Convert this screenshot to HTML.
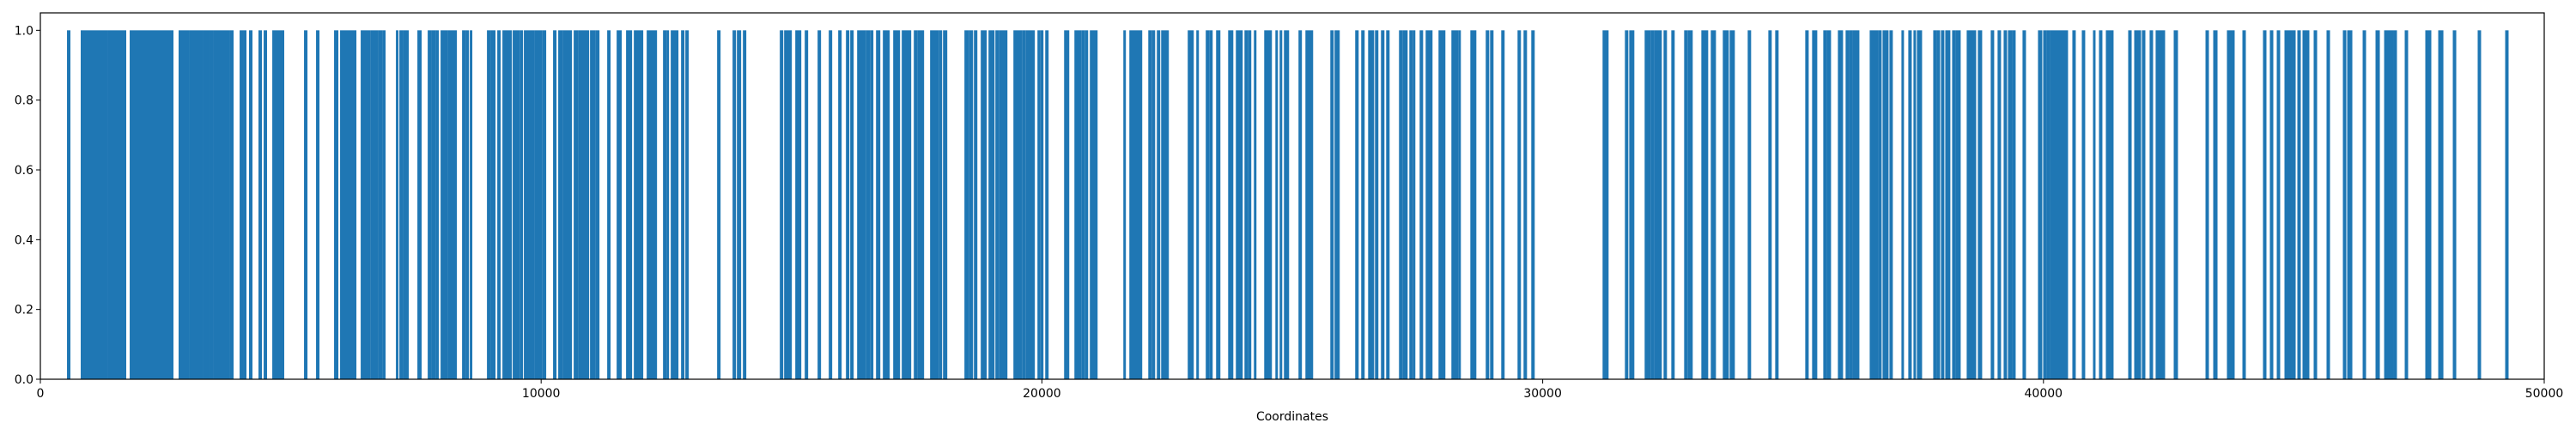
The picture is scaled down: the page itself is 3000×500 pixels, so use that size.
<!DOCTYPE html>
<html><head><meta charset="utf-8"><style>
html,body{margin:0;padding:0;background:#fff;}
svg{display:block;font-family:"DejaVu Sans","Liberation Sans",sans-serif;}
</style></head><body>
<svg id="chart" width="3000" height="500" viewBox="0 0 3000 500" xmlns="http://www.w3.org/2000/svg">
<rect width="3000" height="500" fill="#fff"/>
<g id="bars"></g>
<g id="axes"></g>
<text x="1505" y="490" font-size="14" text-anchor="middle" fill="#000">Coordinates</text>
</svg>
<script>
// intervals [start, end] of coordinates covered by bars (height 1)
const barStarts = [532,806,1338,1509,1784,2212,2761,2967,3241,3361,3447,3773,3979,4047,4167,4356,4459,4631,5265,5505,5865,5985,6397,6586,6740,6826,7100,7169,7237,7529,7735,7803,7889,7992,8129,8421,8489,8575,8918,8986,9124,9227,9432,9570,9655,9861,10016,10238,10341,10427,10650,10736,10976,11079,11319,11508,11696,11851,12108,12434,12502,12588,12794,12880,13514,13823,13909,14029,14766,14852,15075,15264,15521,15744,15932,16087,16172,16310,16481,16567,16687,16824,17030,17201,17442,17510,17767,17939,18025,18453,18539,18642,18779,18934,19071,19139,19431,19602,19671,19911,19962,20066,20443,20649,20786,20854,20957,21626,21746,22124,22192,22295,22381,22912,23083,23272,23341,23478,23719,23873,24045,24113,24233,24439,24662,24747,24833,25124,25262,25759,25844,26256,26376,26514,26651,26771,26874,27131,27200,27337,27406,27543,27663,27920,28177,28315,28555,28863,28949,29172,29498,29618,29772,31196,31642,31728,32036,32156,32225,32414,32568,32825,32894,33168,33357,33597,33734,34094,34506,34643,35243,35380,35603,35672,35895,36049,36118,36187,36530,36701,36787,36924,37164,37301,37404,37473,37799,37867,37953,38039,38176,38244,38467,38690,38947,39084,39205,39291,39376,39582,39891,39994,40063,40131,40577,40766,40989,41109,41246,41332,41692,41812,41881,41966,42120,42240,42601,43236,43390,43664,43973,44384,44521,44659,44813,44933,45070,45173,45259,45396,45653,45979,46065,46374,46631,46803,46905,46991,47214,47625,47883,48174,48671,49220];
const barEnds = [583,1321,1492,1698,2195,2641,2950,3224,3344,3430,3756,3842,4030,4099,4219,4408,4510,4853,5317,5557,5934,6294,6568,6723,6808,6877,7134,7220,7340,7597,7786,7872,7940,8112,8301,8472,8541,8609,8969,9072,9175,9398,9552,9621,9844,9998,10084,10290,10410,10599,10719,10942,11062,11148,11370,11593,11799,12022,12297,12485,12537,12725,12845,12931,13566,13874,13977,14080,14818,14989,15178,15315,15572,15795,15984,16138,16224,16464,16550,16618,16756,16944,17150,17373,17493,17630,17922,17990,18093,18522,18608,18694,18882,19037,19122,19294,19585,19654,19842,19945,20014,20117,20529,20769,20837,20906,21095,21660,21986,22175,22244,22346,22518,23015,23118,23324,23393,23547,23805,23993,24096,24164,24267,24576,24696,24782,24919,25175,25399,25810,25930,26308,26428,26617,26702,26823,26926,27183,27286,27389,27440,27595,27783,28040,28298,28349,28658,28915,29001,29223,29549,29670,29824,31299,31693,31813,32139,32208,32362,32465,32619,32876,32979,33288,33443,33700,33820,34145,34557,34694,35295,35466,35655,35741,35981,36101,36170,36307,36684,36752,36890,36975,37198,37353,37438,37559,37850,37919,38004,38124,38227,38330,38639,38759,38999,39136,39256,39359,39428,39634,39960,40045,40114,40474,40628,40817,41023,41160,41315,41383,41744,41864,41932,42018,42172,42412,42669,43287,43459,43801,44024,44436,44573,44710,44916,45019,45122,45242,45293,45448,45705,46031,46151,46425,46700,46888,46974,47042,47265,47728,47969,48226,48722,49271];
const barValue = 1;
const xTicks = [0,10000,20000,30000,40000,50000];
const xTickLabels = ["0","10000","20000","30000","40000","50000"];
const yTicks = [0,0.2,0.4,0.6,0.8,1.0];
const yTickLabels = ["0.0","0.2","0.4","0.6","0.8","1.0"];

const L=47,R=2963,T=15,B=442,XMAX=50000,YMAX=1.05;
function xs(v){return L+(v/XMAX)*(R-L);}
function ys(v){return B-(v/YMAX)*(B-T);}
const NS="http://www.w3.org/2000/svg";
const gb=document.getElementById('bars');
for(let i=0;i<barStarts.length;i++){
  const r=document.createElementNS(NS,'rect');
  const x0=xs(barStarts[i]), x1=xs(barEnds[i]);
  r.setAttribute('x',x0.toFixed(2));
  r.setAttribute('width',Math.max(2.6,x1-x0+1).toFixed(2));
  r.setAttribute('y',ys(barValue));
  r.setAttribute('height',ys(0)-ys(barValue));
  r.setAttribute('fill','#1f77b4');
  
  
  gb.appendChild(r);
}
const ga=document.getElementById('axes');
const frame=document.createElementNS(NS,'rect');
frame.setAttribute('x',L);frame.setAttribute('y',T);
frame.setAttribute('width',R-L);frame.setAttribute('height',B-T);
frame.setAttribute('fill','none');frame.setAttribute('stroke','#000');frame.setAttribute('stroke-width','1.2');


ga.appendChild(frame);
xTicks.forEach((v,i)=>{
  const x=xs(v);
  const l=document.createElementNS(NS,'line');
  l.setAttribute('x1',x);l.setAttribute('x2',x);l.setAttribute('y1',B);l.setAttribute('y2',B+5);
  l.setAttribute('stroke','#000');
  
  
  ga.appendChild(l);
  const t=document.createElementNS(NS,'text');
  t.setAttribute('x',x);t.setAttribute('y',B+21);t.setAttribute('font-size','14');t.setAttribute('text-anchor','middle');
  t.textContent=xTickLabels[i];
  
  
  ga.appendChild(t);
});
yTicks.forEach((v,i)=>{
  const y=ys(v);
  const l=document.createElementNS(NS,'line');
  l.setAttribute('x1',L-5);l.setAttribute('x2',L);l.setAttribute('y1',y);l.setAttribute('y2',y);
  l.setAttribute('stroke','#000');
  
  
  ga.appendChild(l);
  const t=document.createElementNS(NS,'text');
  t.setAttribute('x',L-8);t.setAttribute('y',y+5);t.setAttribute('font-size','14');t.setAttribute('text-anchor','end');
  t.textContent=yTickLabels[i];
  
  
  ga.appendChild(t);
});
</script>
</body></html>
